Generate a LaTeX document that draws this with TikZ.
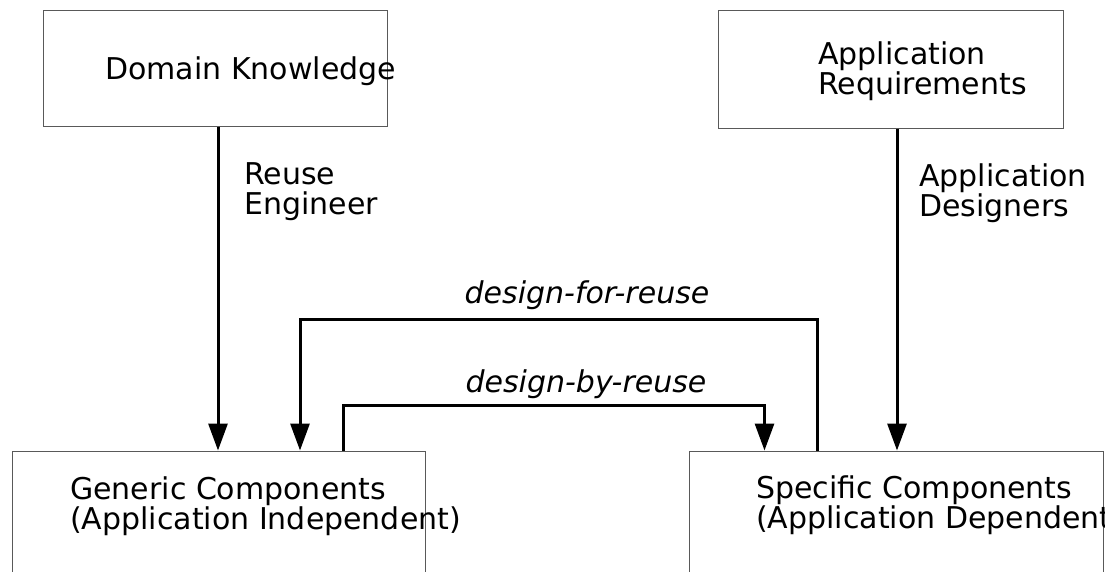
\documentclass[tikz,border=0pt]{standalone}
\usepackage{fontspec}
\setmainfont{DejaVu Sans}
\usetikzlibrary{arrows.meta}

\begin{document}
\begin{tikzpicture}[x=1pt,y=-1pt,
  box/.style={draw=black!65,line width=1pt,inner sep=0pt},
  txt/.style={anchor=base west,inner sep=0pt,align=left,font=\fontsize{30}{30}\selectfont},
  flow/.style={line width=3pt,-{Triangle[length=27pt,width=19pt]}}]
  \useasboundingbox (0,0) rectangle (1117,571);
  \clip (0,0) rectangle (1104,571);
  \node[box,minimum width=344pt,minimum height=116pt] (dk) at (215,68) {};
  \node[box,minimum width=345pt,minimum height=118pt] (ar) at (890.5,69) {};
  \node[box,minimum width=413pt,minimum height=170pt] (gc) at (218.5,536) {};
  \node[box,minimum width=414pt,minimum height=170pt] (sc) at (896,536) {};
  \node[txt] (dktext) at (105,79) {Domain Knowledge};
  \node[txt] (artext) at (818,94) {Application\\Requirements};
  \node[txt] (gctext) at (70,529) {Generic Components\\(Application Independent)};
  \node[txt] (sctext) at (756,528) {Specific Components\\(Application Dependent)};
  \node[txt] (reuseeng) at (244,214) {Reuse\\Engineer};
  \node[txt] (appdes) at (919,216) {Application\\Designers};
  \node[txt,anchor=base] (dfr) at (587,303) {\itshape design-for-reuse};
  \node[txt,anchor=base] (dbr) at (586,392) {\itshape design-by-reuse};
  \draw[flow] ([xshift=3pt]dk.south) -- ([xshift=3pt]dk.south |- gc.north);
  \draw[flow] ([xshift=6.5pt]ar.south) -- ([xshift=6.5pt]ar.south |- sc.north);
  \draw[flow] ([xshift=-79pt]sc.north) -- ++(0,-131) -| ([xshift=81.5pt]gc.north);
  \draw[flow] ([xshift=124.5pt]gc.north) -- ++(0,-45) -| ([xshift=-131.5pt]sc.north);
\end{tikzpicture}
\end{document}
